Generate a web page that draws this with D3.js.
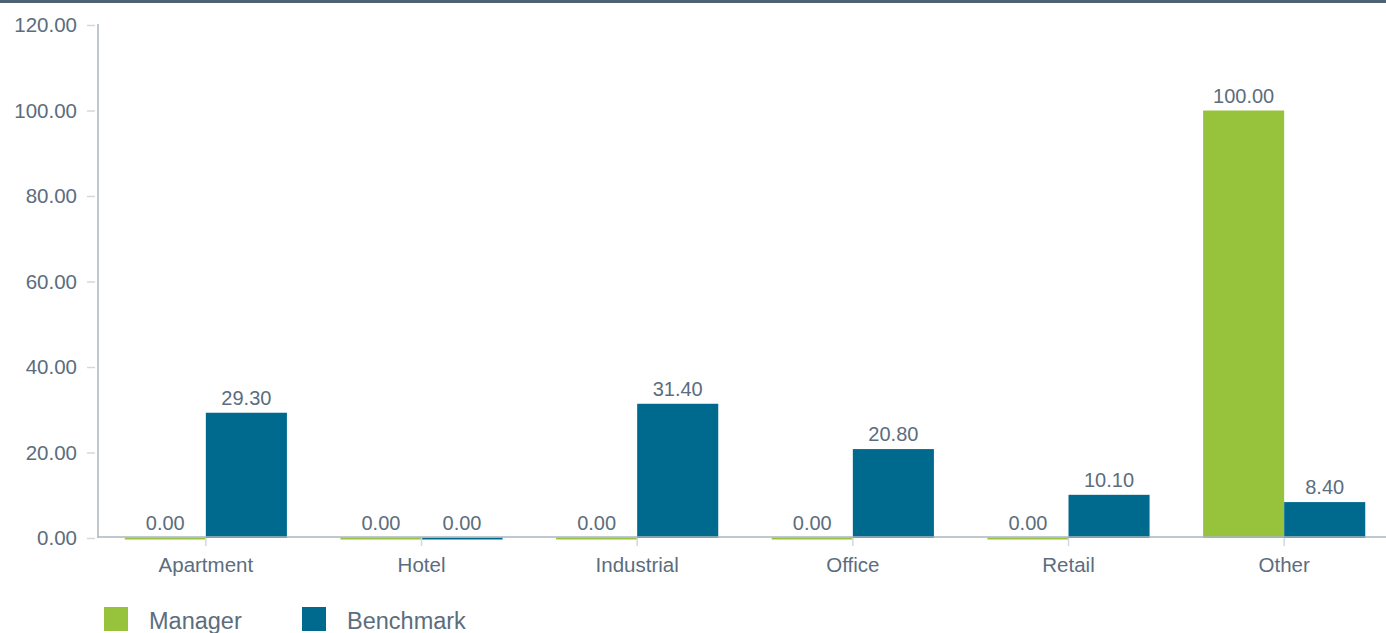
<!DOCTYPE html>
<html>
<head>
<meta charset="utf-8">
<script src="https://cdn.jsdelivr.net/npm/d3@7"></script>
<style>
  body { margin: 0; background: #fff; }
  svg { display: block; font-family: "Liberation Sans", Arial, sans-serif; }
</style>
</head>
<body>
<script>
// chart data
var categories = ["Apartment", "Hotel", "Industrial", "Office", "Retail", "Other"];
var seriesNames = ["Manager", "Benchmark"];
var managerValues = [0, 0, 0, 0, 0, 100];
var benchmarkValues = [29.3, 0, 31.4, 20.8, 10.1, 8.4];
var yTicks = [0, 20, 40, 60, 80, 100, 120];
var colors = ["#97c33c", "#006a8e"];

var width = 1386, height = 633;
var svg = d3.select("body").append("svg")
    .attr("width", width)
    .attr("height", height);

// dark strip across the top
svg.append("rect")
    .attr("x", 0).attr("y", 0)
    .attr("width", width).attr("height", 3)
    .attr("fill", "#4f6274");

var plotLeft = 98, plotRight = 1386, plotTop = 25, plotBottom = 538;

// bands run a little past the right edge, like the original
var x = d3.scaleBand()
    .domain(categories)
    .range([plotLeft, plotRight + 6]);

var x1 = d3.scaleBand()
    .domain(seriesNames)
    .range([0, x.bandwidth()])
    .paddingOuter(0.33);

var y = d3.scaleLinear()
    .domain([0, 120])
    .range([plotBottom, plotTop]);

var rows = categories.map(function(c, i) {
    return { cat: c, values: [managerValues[i], benchmarkValues[i]] };
});

// bars
var groups = svg.selectAll("g.grp")
    .data(rows)
    .enter()
    .append("g")
    .attr("class", "grp")
    .attr("transform", function(d) { return "translate(" + x(d.cat) + ",0)"; });

groups.selectAll("rect")
    .data(function(d) { return d.values.map(function(v, j) { return { v: v, s: seriesNames[j], j: j }; }); })
    .enter()
    .append("rect")
    .attr("x", function(d) { return x1(d.s); })
    .attr("width", x1.bandwidth())
    .attr("y", function(d) { return d.v === 0 ? y(0) - 0.5 : y(d.v); })
    .attr("height", function(d) { return d.v === 0 ? 2 : y(0) - y(d.v); })
    .attr("fill", function(d) { return colors[d.j]; });

// value labels
groups.selectAll("text")
    .data(function(d) { return d.values.map(function(v, j) { return { v: v, s: seriesNames[j] }; }); })
    .enter()
    .append("text")
    .attr("x", function(d) { return x1(d.s) + x1.bandwidth() / 2; })
    .attr("y", function(d) { return y(d.v) - 8; })
    .attr("text-anchor", "middle")
    .attr("font-size", 20)
    .attr("fill", "#5b6d7e")
    .text(function(d) { return d.v.toFixed(2); });

// y axis
var yAxis = d3.axisLeft(y)
    .tickValues(yTicks)
    .tickSize(8)
    .tickPadding(10)
    .tickFormat(function(d) { return d.toFixed(2); });

var gy = svg.append("g")
    .attr("transform", "translate(" + (plotLeft - 3) + ",0)")
    .call(yAxis);
gy.select(".domain").remove();
gy.selectAll("line").attr("stroke", "#d3d8de").attr("stroke-width", 1.5);
gy.selectAll("text")
    .attr("font-size", 20.5)
    .attr("fill", "#5b6d7e")
    .attr("font-family", "Liberation Sans, Arial, sans-serif");

svg.append("line")
    .attr("x1", plotLeft).attr("x2", plotLeft)
    .attr("y1", plotTop - 1).attr("y2", plotBottom)
    .attr("stroke", "#aab6c2").attr("stroke-width", 1.5);

// x axis
var xAxis = d3.axisBottom(x)
    .tickSize(8)
    .tickPadding(11);

var gx = svg.append("g")
    .attr("transform", "translate(0," + plotBottom + ")")
    .call(xAxis);
gx.select(".domain").remove();
gx.selectAll("line").attr("stroke", "#d3d8de").attr("stroke-width", 1.5);
gx.selectAll("text")
    .attr("font-size", 20.5)
    .attr("fill", "#5b6d7e")
    .attr("font-family", "Liberation Sans, Arial, sans-serif");

svg.append("line")
    .attr("x1", plotLeft).attr("x2", plotRight)
    .attr("y1", plotBottom - 1).attr("y2", plotBottom - 1)
    .attr("stroke", "#aab6c2").attr("stroke-width", 1.5);

// legend
var legendX = [104, 302];
var legend = svg.selectAll("g.legend")
    .data(seriesNames)
    .enter()
    .append("g")
    .attr("class", "legend")
    .attr("transform", function(d, i) { return "translate(" + legendX[i] + ",607)"; });

legend.append("rect")
    .attr("width", 24)
    .attr("height", 24)
    .attr("fill", function(d, i) { return colors[i]; });

legend.append("text")
    .attr("x", 45)
    .attr("y", 22)
    .attr("font-size", 23.5)
    .attr("fill", "#5b6d7e")
    .text(function(d) { return d; });
</script>
</body>
</html>
